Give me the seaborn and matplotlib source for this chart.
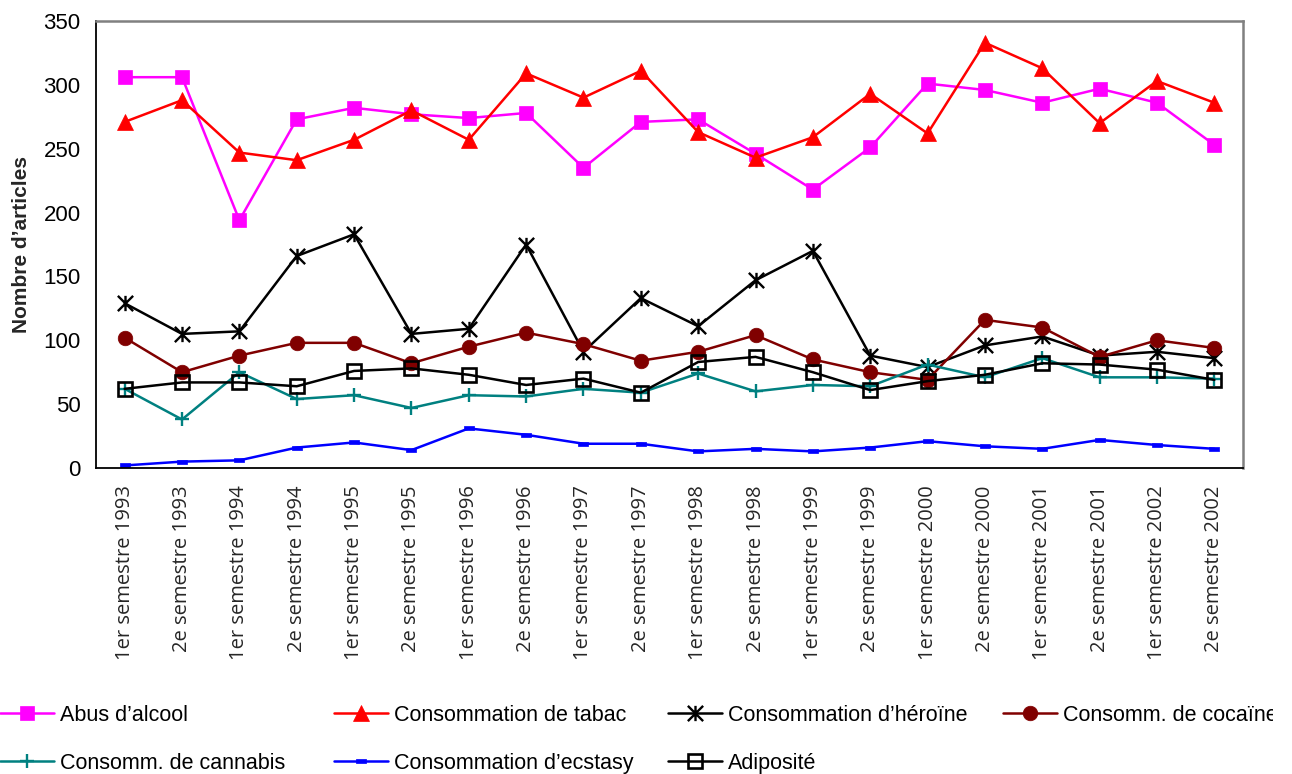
import numpy as np
import pandas as pd
import matplotlib
matplotlib.use("Agg")
import matplotlib.pyplot as plt
from matplotlib.path import Path
from matplotlib.transforms import Bbox, TransformedBbox
import seaborn as sns

# Semesters on the x axis
periods = [
    "1er semestre 1993", "2e semestre 1993",
    "1er semestre 1994", "2e semestre 1994",
    "1er semestre 1995", "2e semestre 1995",
    "1er semestre 1996", "2e semestre 1996",
    "1er semestre 1997", "2e semestre 1997",
    "1er semestre 1998", "2e semestre 1998",
    "1er semestre 1999", "2e semestre 1999",
    "1er semestre 2000", "2e semestre 2000",
    "1er semestre 2001", "2e semestre 2001",
    "1er semestre 2002", "2e semestre 2002",
]

# Number of articles per semester and topic
alcool = [306, 306, 194, 273, 282, 277, 274, 278, 235, 271,
          273, 246, 218, 251, 301, 296, 286, 297, 286, 253]
tabac = [271, 288, 247, 241, 257, 280, 257, 309, 290, 311,
         263, 243, 259, 293, 262, 333, 313, 270, 303, 286]
heroine = [129, 105, 107, 166, 183, 105, 109, 175, 91, 133,
           111, 147, 170, 88, 79, 96, 103, 88, 91, 86]
cocaine = [102, 75, 88, 98, 98, 82, 95, 106, 97, 84,
           91, 104, 85, 75, 69, 116, 110, 87, 100, 94]
cannabis = [62, 38, 75, 54, 57, 47, 57, 56, 62, 59,
            74, 60, 65, 64, 81, 71, 86, 71, 71, 70]
ecstasy = [2, 5, 6, 16, 20, 14, 31, 26, 19, 19,
           13, 15, 13, 16, 21, 17, 15, 22, 18, 15]
adiposite = [62, 67, 67, 64, 76, 78, 73, 65, 70, 59,
             83, 87, 75, 61, 68, 73, 82, 81, 77, 69]

series_names = [
    "Abus d’alcool", "Consommation de tabac", "Consommation d’héroïne",
    "Consomm. de cocaïne", "Consomm. de cannabis", "Consommation d’ecstasy",
    "Adiposité",
]

sns.set_theme(style="white")
plt.rcParams["font.family"] = ["Liberation Sans", "DejaVu Sans"]

# Custom marker shapes: asterisk (X with a vertical bar) and a flat dash
star = Path(
    [(-1, -1), (1, 1), (-1, 1), (1, -1), (0, -1), (0, 1)],
    [Path.MOVETO, Path.LINETO, Path.MOVETO, Path.LINETO, Path.MOVETO, Path.LINETO],
)
dash = Path(
    [(-1, -0.4), (1, -0.4), (1, 0.4), (-1, 0.4), (-1, -0.4)],
    [Path.MOVETO, Path.LINETO, Path.LINETO, Path.LINETO, Path.CLOSEPOLY],
)

styles = [
    dict(color="#FF00FF", marker="s", markersize=10.5, markeredgewidth=0.5,
         markerfacecolor="#FF00FF"),
    dict(color="#FF0000", marker="^", markersize=11.5, markeredgewidth=0.5,
         markerfacecolor="#FF0000"),
    dict(color="#000000", marker=star, markersize=11, markeredgewidth=1.7,
         markerfacecolor="none"),
    dict(color="#800000", marker="o", markersize=10.5, markeredgewidth=0.5,
         markerfacecolor="#800000"),
    dict(color="#008080", marker="+", markersize=10.5, markeredgewidth=1.7),
    dict(color="#0000FF", marker=dash, markersize=7.5, markeredgewidth=0.5,
         markerfacecolor="#0000FF"),
    dict(color="#000000", marker="s", markersize=9.5, markeredgewidth=1.9,
         markerfacecolor="none"),
]

values = [alcool, tabac, heroine, cocaine, cannabis, ecstasy, adiposite]
x = np.arange(len(periods))

fig = plt.figure(figsize=(12.92, 7.74), dpi=100)
ax = fig.add_axes([96 / 1292, 1 - 468 / 774, (1243 - 96) / 1292, (468 - 21) / 774])

for name, vals, st in zip(series_names, values, styles):
    df = pd.DataFrame({"x": x, "y": vals})
    sns.lineplot(data=df, x="x", y="y", ax=ax, linewidth=1.8, label=name,
                 markeredgecolor=st["color"], **st)

handles, labels = ax.get_legend_handles_labels()
if ax.get_legend() is not None:
    ax.get_legend().remove()

# Axes limits and ticks
ax.set_xlim(-0.5, len(periods) - 0.5)
ax.set_ylim(0, 350)
ax.set_yticks(np.arange(0, 351, 50))
ax.set_xticks(x)
ax.set_xticklabels(periods, rotation=90, fontsize=14.5, family=["Open Sans", "DejaVu Sans"],
                   va="top", ha="center")
ax.set_xticks(np.arange(-0.5, len(periods), 1), minor=True)
ax.tick_params(axis="x", which="major", length=0, pad=12.5)
ax.tick_params(axis="x", which="minor", length=4, width=1, direction="out", color="black")
ax.tick_params(axis="y", length=5, width=1, direction="out", color="black",
               labelsize=16, pad=6)
for lbl in ax.get_yticklabels():
    lbl.set_color("black")
ax.set_xlabel("")
ax.set_ylabel("Nombre d’articles", fontsize=15, fontweight="bold", labelpad=9)
ax.grid(False)

for side in ("left", "bottom"):
    ax.spines[side].set_color("black")
    ax.spines[side].set_linewidth(1.3)
for side in ("top", "right"):
    ax.spines[side].set_color("#808080")
    ax.spines[side].set_linewidth(1.8)
    ax.spines[side].set_visible(True)

# Legend laid out in four columns below the plot
columns = [
    (0 / 1292, [0, 4]),
    (334 / 1292, [1, 5]),
    (668 / 1292, [2, 6]),
    (1003 / 1292, [3]),
]
clip = TransformedBbox(Bbox([[0, 0], [1273 / 1292, 1]]), fig.transFigure)
for x0, idx in columns:
    leg = fig.legend(
        [handles[i] for i in idx], [labels[i] for i in idx],
        loc="upper left", bbox_to_anchor=(x0, 1 - 705 / 774),
        frameon=False, borderpad=0, borderaxespad=0,
        handlelength=2.5, handletextpad=0.28, labelspacing=1.25,
        prop={"family": ["Liberation Sans", "DejaVu Sans"], "size": 15.5},
    )
    for t in leg.get_texts():
        t.set_color("black")
        t.set_clip_box(clip)
        t.set_clip_on(True)

fig.savefig("out.png", dpi=100, facecolor="white")
